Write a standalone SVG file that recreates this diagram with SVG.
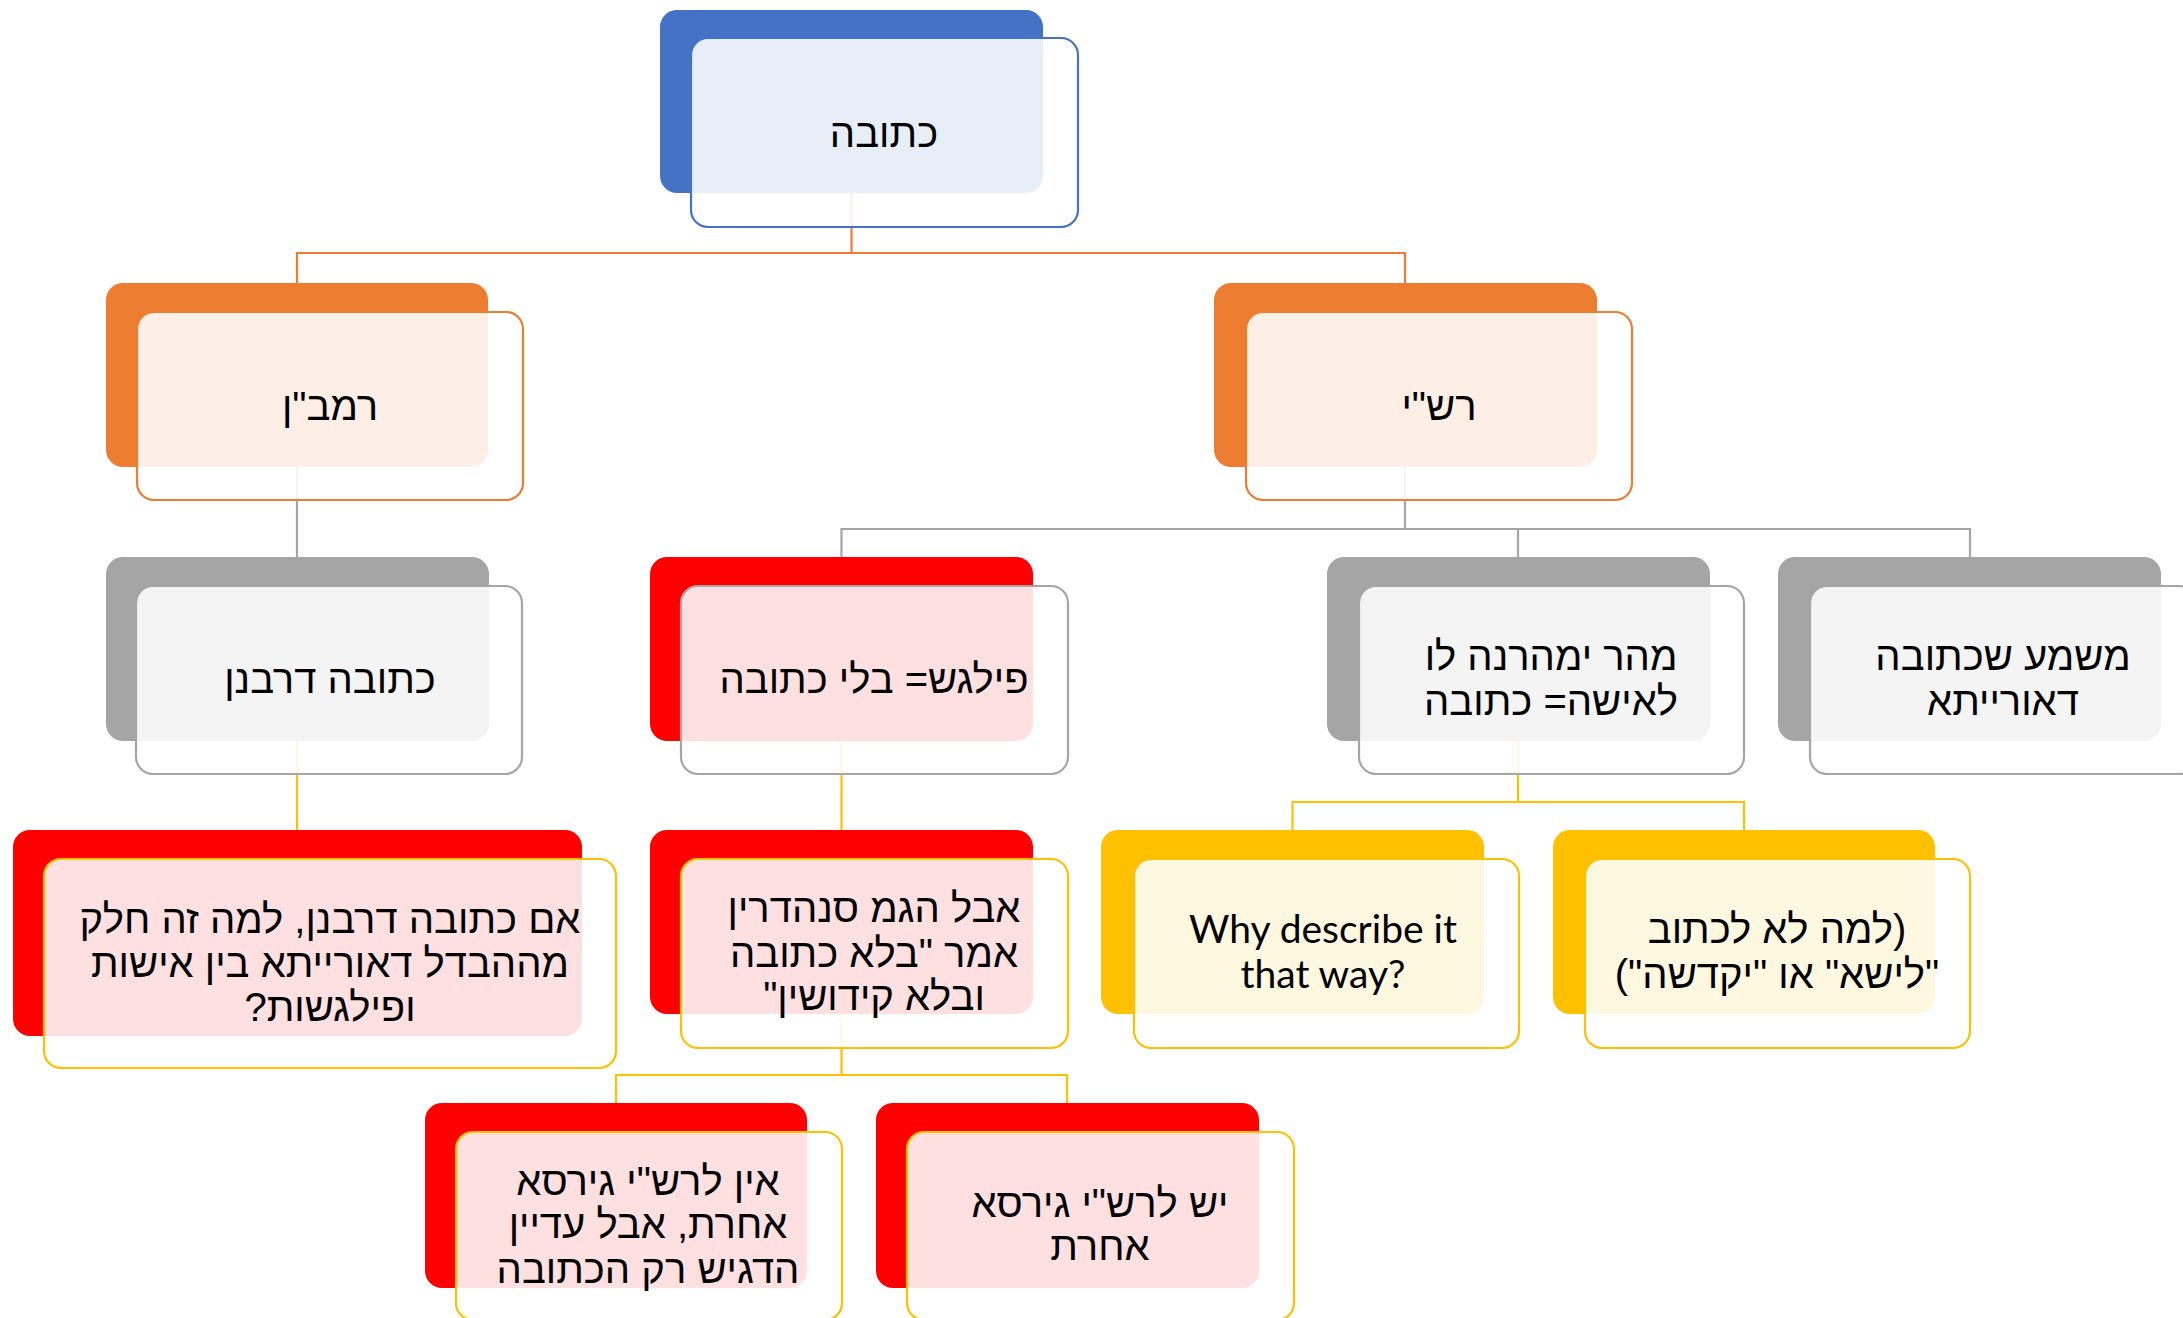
<svg xmlns="http://www.w3.org/2000/svg" width="2183" height="1318" viewBox="0 0 2183 1318">
<style>
  .bg{fill:#ffffff}
  .back{stroke:none}
  .front{fill:#ffffff;fill-opacity:0.88;stroke-width:2.2}
  .blue{fill:#4472C4}.orange{fill:#ED7D31}.gray{fill:#A5A5A5}.red{fill:#FF0000}.yellow{fill:#FFC000}
  .sblue{stroke:#4472C4}.sorange{stroke:#ED7D31}.sgray{stroke:#A5A5A5}.syellow{stroke:#FFC000}
  .he{font-family:"Liberation Sans","DejaVu Sans",sans-serif;font-size:40px;fill:#000;text-anchor:middle;direction:rtl;unicode-bidi:embed}
  .en{font-family:Lato,"Open Sans",sans-serif;font-size:39px;fill:#000;text-anchor:middle}
  .conn{fill:none;stroke-width:2.2}
</style>
<rect class="bg" x="0" y="0" width="2183" height="1318"/>
<g id="connectors">
  <path class="conn sorange" d="M851.5 193 V253 M297 283 V253 H1405 V283"/>
  <path class="conn sgray" d="M297 467 V557 M1405 467 V529 M841.5 557 V529 H1970 V557 M1518 529 V557"/>
  <path class="conn syellow" d="M297 741 V830 M841.5 741 V830 M1518 741 V802 M1292.5 830 V802 H1744 V830 M841.5 1014 V1075 M616 1103 V1075 H1067 V1103"/>
</g>
<g id="node-ketubah">
  <rect class="back blue" x="660" y="10" width="383" height="183" rx="17"/>
  <rect class="front sblue" x="691" y="38" width="387" height="189" rx="17"/>
  <text class="he" x="884" y="147">כתובה</text>
</g>
<g id="node-ramban">
  <rect class="back orange" x="106" y="283" width="382" height="184" rx="17"/>
  <rect class="front sorange" x="137" y="312" width="386" height="188" rx="17"/>
  <text class="he" x="330" y="420">רמב"ן</text>
</g>
<g id="node-rashi">
  <rect class="back orange" x="1214" y="283" width="383" height="184" rx="17"/>
  <rect class="front sorange" x="1246" y="312" width="386" height="188" rx="17"/>
  <text class="he" x="1439" y="420">רש"י</text>
</g>
<g id="node-drabanan">
  <rect class="back gray" x="106" y="557" width="383" height="184" rx="17"/>
  <rect class="front sgray" x="136" y="586" width="386" height="188" rx="17"/>
  <text class="he" x="330" y="693">כתובה דרבנן</text>
</g>
<g id="node-pilegesh">
  <rect class="back red" x="650" y="557" width="383" height="184" rx="17"/>
  <rect class="front sgray" x="681" y="586" width="387" height="188" rx="17"/>
  <text class="he" x="874" y="693">פילגש= בלי כתובה</text>
</g>
<g id="node-mahar">
  <rect class="back gray" x="1327" y="557" width="383" height="184" rx="17"/>
  <rect class="front sgray" x="1359" y="586" width="385" height="188" rx="17"/>
  <text class="he" x="1551" y="670">מהר ימהרנה לו</text>
  <text class="he" x="1551" y="715">לאישה= כתובה</text>
</g>
<g id="node-mashma">
  <rect class="back gray" x="1778" y="557" width="383" height="184" rx="17"/>
  <rect class="front sgray" x="1810" y="586" width="386" height="188" rx="17"/>
  <text class="he" x="2003" y="670">משמע שכתובה</text>
  <text class="he" x="2003" y="715">דאורייתא</text>
</g>
<g id="node-im">
  <rect class="back red" x="13" y="830" width="569" height="206" rx="17"/>
  <rect class="front syellow" x="44" y="859" width="572" height="209" rx="17"/>
  <text class="he" x="330" y="933">אם כתובה דרבנן, למה זה חלק</text>
  <text class="he" x="330" y="977">מההבדל דאורייתא בין אישות</text>
  <text class="he" x="330" y="1021">ופילגשות?</text>
</g>
<g id="node-aval">
  <rect class="back red" x="650" y="830" width="383" height="184" rx="17"/>
  <rect class="front syellow" x="681" y="859" width="387" height="189" rx="17"/>
  <text class="he" x="874" y="922">אבל הגמ סנהדרין</text>
  <text class="he" x="874" y="967">אמר "בלא כתובה</text>
  <text class="he" x="874" y="1010">ובלא קידושין"</text>
</g>
<g id="node-why">
  <rect class="back yellow" x="1101" y="830" width="383" height="184" rx="17"/>
  <rect class="front syellow" x="1134" y="859" width="385" height="189" rx="17"/>
  <text class="en" x="1323" y="943">Why describe it</text>
  <text class="en" x="1323" y="988">that way?</text>
</g>
<g id="node-lama">
  <rect class="back yellow" x="1553" y="830" width="382" height="184" rx="17"/>
  <rect class="front syellow" x="1585" y="859" width="385" height="189" rx="17"/>
  <text class="he" x="1777" y="943">(למה לא לכתוב</text>
  <text class="he" x="1777" y="988">"לישא" או "יקדשה")</text>
</g>
<g id="node-ein">
  <rect class="back red" x="425" y="1103" width="382" height="185" rx="17"/>
  <rect class="front syellow" x="456" y="1132" width="386" height="188" rx="17"/>
  <text class="he" x="648" y="1195">אין לרש"י גירסא</text>
  <text class="he" x="648" y="1238">אחרת, אבל עדיין</text>
  <text class="he" x="648" y="1283">הדגיש רק הכתובה</text>
</g>
<g id="node-yesh">
  <rect class="back red" x="876" y="1103" width="383" height="185" rx="17"/>
  <rect class="front syellow" x="907" y="1132" width="387" height="188" rx="17"/>
  <text class="he" x="1100" y="1217">יש לרש"י גירסא</text>
  <text class="he" x="1100" y="1260">אחרת</text>
</g>
</svg>
